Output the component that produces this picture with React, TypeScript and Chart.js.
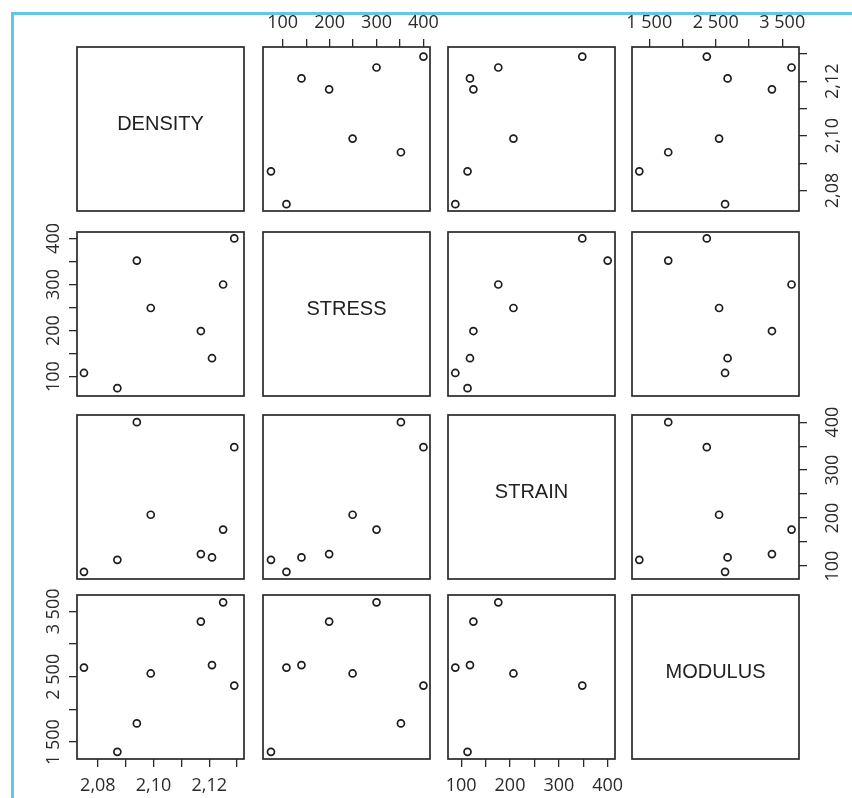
import React, { useEffect, useRef } from 'react';
import { Chart, registerables } from 'chart.js';

Chart.register(...registerables);

// ---- data (8 specimens) ----
const VARIABLE_NAMES = ['DENSITY', 'STRESS', 'STRAIN', 'MODULUS'];
const density = [2.075, 2.087, 2.094, 2.099, 2.117, 2.121, 2.125, 2.129];
const stress = [108, 75, 352, 249, 199, 140, 300, 400];
const strain = [88, 113, 400, 207, 125, 118, 176, 348];
const modulus = [2640, 1350, 1785, 2550, 3345, 2678, 3640, 2365];

// specimens that the reference figure does not show in a given panel [row, col, specimen]
const omittedPanelPoints = [
  [0, 2, 2],
  [3, 2, 2],
  [1, 3, 1],
];

// ---- ticks ----
const densityTicks = [2.08, 2.09, 2.1, 2.11, 2.12, 2.13];
const densityTickLabels = [2.08, 2.1, 2.12];
const stressTicks = [100, 150, 200, 250, 300, 350, 400];
const stressTickLabels = [100, 200, 300, 400];
const strainTicks = [100, 150, 200, 250, 300, 350, 400];
const strainTickLabels = [100, 200, 300, 400];
const modulusTicks = [1500, 2000, 2500, 3000, 3500];
const modulusTickLabels = [1500, 2500, 3500];

// ---- axis ranges ----
const densityRange = [2.0725, 2.1325];
const stressRange = [58, 414];
const strainRange = [73, 415];
const modulusRange = [1240, 3752];

const fmtDensity = (v: number) => v.toFixed(2).replace('.', ',');
const fmtInt = (v: number) => {
  const s = Math.round(v).toString();
  return s.length > 3 ? s.slice(0, -3) + ' ' + s.slice(-3) : s;
};

const VARS = [
  { name: VARIABLE_NAMES[0], values: density, ticks: densityTicks, labels: densityTickLabels, range: densityRange, fmt: fmtDensity },
  { name: VARIABLE_NAMES[1], values: stress, ticks: stressTicks, labels: stressTickLabels, range: stressRange, fmt: fmtInt },
  { name: VARIABLE_NAMES[2], values: strain, ticks: strainTicks, labels: strainTickLabels, range: strainRange, fmt: fmtInt },
  { name: VARIABLE_NAMES[3], values: modulus, ticks: modulusTicks, labels: modulusTickLabels, range: modulusRange, fmt: fmtInt },
];

// ---- layout ----
const COL_LEFT = [77, 263, 448, 632];
const ROW_TOP = [47, 232, 415, 595];
const PANEL_W = 167;
const PANEL_H = 164;
const M = 60;
const INK = '#2a2a2a';
const TICK_FONT = '"Open Sans", "DejaVu Sans", sans-serif';
const LABEL_FONT = '"Liberation Sans", Arial, sans-serif';

function Panel({ row, col }: { row: number; col: number }) {
  const ref = useRef<HTMLCanvasElement | null>(null);
  useEffect(() => {
    const diag = row === col;
    const xv = VARS[col];
    const yv = VARS[row];
    const showTop = !diag && row === 0 && col % 2 === 1;
    const showBottom = !diag && row === 3 && col % 2 === 0;
    const showLeft = !diag && col === 0 && row % 2 === 1;
    const showRight = !diag && col === 3 && row % 2 === 0;
    const xShown = showTop || showBottom;
    const yShown = showLeft || showRight;
    const near = (arr: number[], v: number) => arr.some((a) => Math.abs(a - v) < 1e-9);
    const gridOpts = { drawOnChartArea: false, drawTicks: true, tickLength: 8, color: INK, lineWidth: 1.3 };
    const isOmitted = (k: number) => omittedPanelPoints.some((p) => p[0] === row && p[1] === col && p[2] === k);

    const plugin = {
      id: 'panelFrame' + row + col,
      beforeDatasetsDraw(chart: any) {
        const { ctx, chartArea } = chart;
        ctx.save();
        ctx.strokeStyle = INK;
        ctx.lineWidth = 1.7;
        ctx.strokeRect(chartArea.left, chartArea.top, chartArea.right - chartArea.left, chartArea.bottom - chartArea.top);
        ctx.restore();
      },
      afterDraw(chart: any) {
        const { ctx, chartArea } = chart;
        ctx.save();
        if (diag) {
          ctx.font = `20px ${LABEL_FONT}`;
          ctx.fillStyle = '#222';
          ctx.textAlign = 'center';
          ctx.textBaseline = 'middle';
          ctx.fillText(yv.name, (chartArea.left + chartArea.right) / 2, (chartArea.top + chartArea.bottom) / 2 - 5);
        }
        if (yShown) {
          const ys = chart.scales.y;
          ctx.font = `18px ${TICK_FONT}`;
          ctx.fillStyle = INK;
          ctx.textAlign = 'center';
          ctx.textBaseline = 'alphabetic';
          for (const v of yv.labels) {
            const py = ys.getPixelForValue(v);
            const px = showLeft ? chartArea.left - 18 : chartArea.right + 39;
            ctx.save();
            ctx.translate(px, py);
            ctx.rotate(-Math.PI / 2);
            ctx.fillText(yv.fmt(v), 0, 0);
            ctx.restore();
          }
        }
        ctx.restore();
      },
    };

    const points = xv.values
      .map((x, k) => ({ x, y: yv.values[k], k }))
      .filter((p) => !isOmitted(p.k))
      .map((p) => ({ x: p.x, y: p.y }));

    const chart = new Chart(ref.current as HTMLCanvasElement, {
      type: 'scatter',
      data: {
        datasets: diag
          ? []
          : [
              {
                data: points,
                pointStyle: 'circle',
                pointRadius: 3.5,
                pointBorderWidth: 1.7,
                pointBorderColor: '#1c1c1c',
                pointBackgroundColor: 'rgba(0,0,0,0)',
                clip: false as any,
              } as any,
            ],
      },
      options: {
        responsive: false,
        animation: false,
        devicePixelRatio: 1,
        events: [],
        layout: {
          autoPadding: false,
          padding: {
            left: showLeft ? 0 : M,
            right: showRight ? 0 : M,
            top: showTop ? 0 : M,
            bottom: showBottom ? 0 : M,
          },
        },
        plugins: { legend: { display: false }, tooltip: { enabled: false }, title: { display: false } },
        scales: {
          x: {
            type: 'linear',
            position: showTop ? 'top' : 'bottom',
            display: xShown,
            min: xv.range[0],
            max: xv.range[1],
            afterBuildTicks: (s: any) => {
              s.ticks = xv.ticks.map((value) => ({ value }));
            },
            afterFit: (s: any) => {
              if (xShown) s.height = M;
            },
            grid: gridOpts,
            border: { display: false },
            ticks: {
              autoSkip: false,
              maxRotation: 0,
              minRotation: 0,
              padding: showTop ? 5 : 8,
              font: { family: TICK_FONT, size: 18 },
              color: INK,
              callback: (v: any) => (near(xv.labels, Number(v)) ? xv.fmt(Number(v)) : ''),
            },
          },
          y: {
            type: 'linear',
            position: showRight ? 'right' : 'left',
            display: yShown,
            min: yv.range[0],
            max: yv.range[1],
            afterBuildTicks: (s: any) => {
              s.ticks = yv.ticks.map((value) => ({ value }));
            },
            afterFit: (s: any) => {
              if (yShown) s.width = M;
            },
            grid: gridOpts,
            border: { display: false },
            ticks: { display: false },
          },
        },
      } as any,
      plugins: [plugin],
    });
    return () => chart.destroy();
  }, [row, col]);

  return (
    <canvas
      ref={ref}
      width={PANEL_W + 2 * M}
      height={PANEL_H + 2 * M}
      style={{
        position: 'absolute',
        left: COL_LEFT[col] - M,
        top: ROW_TOP[row] - M,
        width: PANEL_W + 2 * M,
        height: PANEL_H + 2 * M,
      }}
    />
  );
}

export default function App() {
  const cells: React.ReactNode[] = [];
  for (let r = 0; r < 4; r++) for (let c = 0; c < 4; c++) cells.push(<Panel key={`${r}-${c}`} row={r} col={c} />);
  return (
    <div
      style={{
        position: 'absolute',
        left: 0,
        top: 0,
        width: 852,
        height: 798,
        overflow: 'hidden',
        background: '#ffffff',
      }}
    >
      <div
        style={{
          position: 'absolute',
          left: 11,
          top: 12,
          width: 900,
          height: 900,
          borderLeft: '3px solid #62c6e6',
          borderTop: '3px solid #62c6e6',
        }}
      />
      {cells}
    </div>
  );
}
